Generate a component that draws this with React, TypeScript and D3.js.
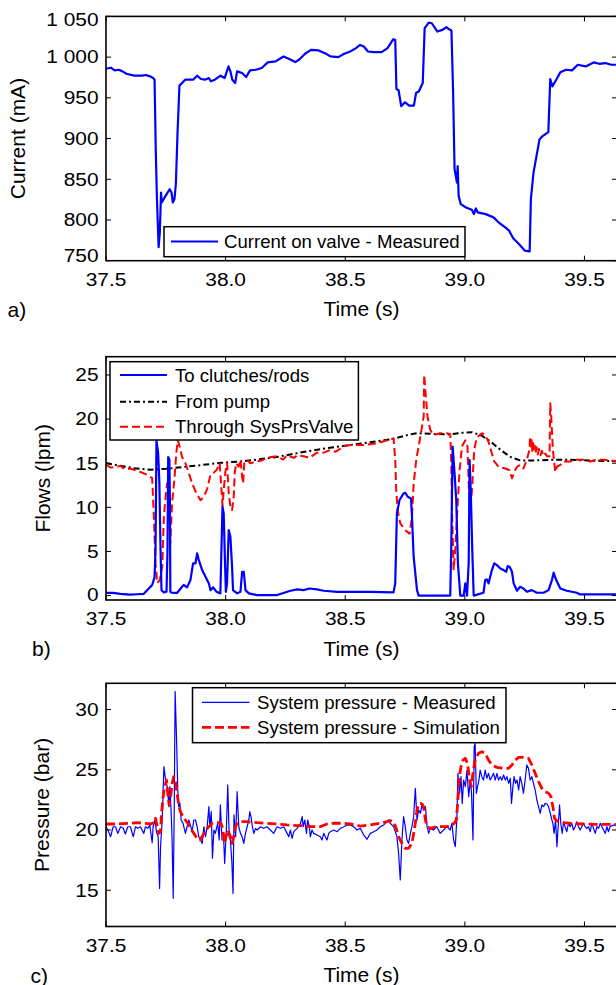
import React from "react";
import * as d3 from "d3";

const W = 616;
const H = 985;
const FONT = "'Liberation Sans', Arial, Helvetica, sans-serif";

const xDomain: [number, number] = [37.5, 39.636];
const xTicks = [37.5, 38.0, 38.5, 39.0, 39.5];
const xTickLabels = ["37.5", "38.0", "38.5", "39.0", "39.5"];

const currentTicks = [750, 800, 850, 900, 950, 1000, 1050];
const currentTickLabels = ["750", "800", "850", "900", "950", "1 000", "1 050"];
const flowTicks = [0, 5, 10, 15, 20, 25];
const flowTickLabels = ["0", "5", "10", "15", "20", "25"];
const pressTicks = [15, 20, 25, 30];
const pressTickLabels = ["15", "20", "25", "30"];

// Panel a: current on valve (time s, mA)
const currentMeasured: [number, number][] = [
  [37.5, 985.7], [37.52, 987], [37.536, 983.7], [37.553, 984.5], [37.569, 982.5], [37.585, 979.6],
  [37.618, 977.2], [37.651, 977.2], [37.667, 978], [37.684, 976.4], [37.697, 974.3], [37.703, 972.3],
  [37.708, 886], [37.713, 825.4], [37.72, 766.5], [37.725, 784.8], [37.73, 833.7], [37.733, 821.5],
  [37.741, 825.6], [37.749, 829.6], [37.766, 837.8], [37.774, 833.7], [37.779, 821.5], [37.786, 825.6],
  [37.792, 843.9], [37.799, 906.8], [37.807, 965], [37.818, 968.2], [37.831, 972.3], [37.864, 972.3],
  [37.881, 977.2], [37.897, 973.1], [37.914, 972.3], [37.93, 974.3], [37.938, 970.3], [37.955, 972.3],
  [37.979, 977.2], [37.996, 974.3], [38.012, 988.6], [38.02, 982.5], [38.028, 972.3], [38.04, 968.2],
  [38.048, 982.5], [38.069, 980.4], [38.086, 975.5], [38.102, 983.7], [38.127, 984.5], [38.151, 986.6],
  [38.176, 993.5], [38.209, 994.7], [38.242, 1000.8], [38.266, 997.6], [38.291, 993.9], [38.307, 996.7],
  [38.332, 1004.1], [38.357, 1008.9], [38.389, 1008.2], [38.422, 1003.7], [38.439, 1000.8], [38.471, 1000],
  [38.496, 1004.1], [38.521, 1006.9], [38.545, 1011], [38.562, 1015], [38.578, 1013], [38.595, 1006.9],
  [38.619, 1006.1], [38.652, 1006.1], [38.677, 1011], [38.701, 1022], [38.709, 1021.2], [38.714, 960.9],
  [38.723, 959.3], [38.734, 939.8], [38.75, 944.6], [38.767, 940.5], [38.787, 940.5], [38.796, 956],
  [38.808, 958.1], [38.824, 968.2], [38.832, 1035.5], [38.849, 1042.4], [38.862, 1041.6], [38.885, 1031.4],
  [38.906, 1033.4], [38.923, 1036.7], [38.934, 1034.2], [38.944, 1032.6], [38.951, 956], [38.957, 862.3],
  [38.967, 846], [38.97, 866.3], [38.974, 829.6], [38.983, 819.4], [39.005, 815.4], [39.029, 812.5],
  [39.038, 807.2], [39.046, 814.2], [39.054, 809.3], [39.087, 807.2], [39.12, 803.2], [39.144, 796.3],
  [39.169, 791], [39.185, 786.9], [39.202, 777.5], [39.226, 770.5], [39.251, 762.3], [39.271, 761.5],
  [39.276, 825.6], [39.287, 858.2], [39.312, 898.9], [39.325, 903], [39.349, 907.9], [39.357, 973.1],
  [39.366, 964.1], [39.382, 972.3], [39.399, 981.3], [39.423, 984.5], [39.448, 983.7], [39.472, 990.6],
  [39.505, 988.6], [39.538, 993.5], [39.562, 991.8], [39.587, 992.7], [39.612, 990.6], [39.636, 990.6],
];

// Panel b: flows (lpm)
const flowClutches: [number, number][] = [
  [37.5, 0.3], [37.53, 0.3], [37.56, 0.2], [37.6, 0.1], [37.63, 0.15], [37.658, 0.2], [37.672, 0.6],
  [37.693, 1.2], [37.703, 2.1], [37.707, 5.2], [37.711, 17.6], [37.718, 16.1], [37.723, 12.9], [37.728, 5.2],
  [37.732, 0.6], [37.742, 0.36], [37.753, 0.43], [37.757, 5], [37.76, 15.7], [37.765, 15.4], [37.767, 11.0],
  [37.769, 0.43], [37.774, 0.32], [37.797, 0.3], [37.818, 1.0], [37.825, 1.2], [37.839, 0.93], [37.853, 1.76],
  [37.864, 3.65], [37.874, 3.65], [37.881, 4.78], [37.888, 4.02], [37.902, 2.89], [37.916, 2.13], [37.93, 1.38],
  [37.937, 0.62], [37.948, 0.93], [37.962, 0.43], [37.978, 0.25], [37.987, 10.07], [37.992, 9.32], [37.996, 5.16],
  [38.001, 0.43], [38.006, 1.38], [38.013, 7.43], [38.02, 6.67], [38.027, 3.27], [38.031, 0.62], [38.048, 0.25],
  [38.062, 0.43], [38.069, 2.7], [38.076, 2.7], [38.083, 0.62], [38.097, 0.25], [38.131, 0.06], [38.215, 0.06],
  [38.271, 0.55], [38.3, 0.7], [38.326, 0.62], [38.35, 0.8], [38.382, 0.7], [38.41, 0.55], [38.466, 0.43],
  [38.521, 0.43], [38.605, 0.43], [38.702, 0.36], [38.709, 1.38], [38.716, 9.32], [38.727, 10.83],
  [38.744, 11.58], [38.751, 11.66], [38.761, 11.2], [38.775, 11.0], [38.779, 8.95], [38.786, 4.4], [38.8, 0.62],
  [38.807, 0], [38.869, 0], [38.939, 0], [38.943, 5.16], [38.949, 16.88], [38.956, 14.24], [38.964, 10.83],
  [38.971, 3.65], [38.981, 0], [38.995, 0], [39.002, 1.38], [39.009, 0], [39.016, 3.65], [39.02, 15.36],
  [39.025, 11.58], [39.031, 5.16], [39.037, 0], [39.078, 0.32], [39.085, 1.76], [39.092, 1.83], [39.099, 1.38],
  [39.113, 2.89], [39.123, 3.65], [39.134, 3.46], [39.148, 3.08], [39.162, 2.89], [39.173, 2.7], [39.179, 3.34],
  [39.187, 3.27], [39.197, 2.7], [39.204, 1.38], [39.218, 0.55], [39.231, 1.0], [39.245, 0.81], [39.259, 0.43],
  [39.28, 0.62], [39.301, 0.32], [39.329, 0.32], [39.35, 0.62], [39.364, 1.76], [39.371, 2.6], [39.382, 1.76],
  [39.399, 0.81], [39.426, 0.55], [39.468, 0.32], [39.482, 0.13], [39.496, 0.13], [39.636, 0.13],
];

const flowPump: [number, number][] = [
  [37.5, 15.0], [37.553, 14.74], [37.618, 14.44], [37.684, 14.25], [37.749, 14.36], [37.815, 14.55],
  [37.881, 14.74], [37.979, 15.04], [38.078, 15.23], [38.209, 15.68], [38.307, 16.18], [38.406, 16.63],
  [38.504, 17.0], [38.603, 17.38], [38.701, 17.76], [38.767, 18.25], [38.8, 18.4], [38.865, 18.33],
  [38.931, 18.25], [38.988, 18.44], [39.029, 18.52], [39.07, 18.14], [39.111, 17.38], [39.152, 16.44],
  [39.193, 15.68], [39.234, 15.3], [39.276, 15.3], [39.358, 15.38], [39.44, 15.38], [39.522, 15.3],
  [39.636, 15.23],
];

const flowValve: [number, number][] = [
  [37.5, 14.8], [37.52, 14.5], [37.547, 14.6], [37.56, 14.7], [37.58, 14.3], [37.602, 14.4], [37.644, 14.0],
  [37.679, 13.6], [37.693, 13.3], [37.7, 9.0], [37.707, 3.65], [37.714, 1.4], [37.725, 1.76], [37.735, 3.27],
  [37.742, 9.0], [37.748, 10.8], [37.755, 12.7], [37.762, 11.6], [37.769, 5.9], [37.776, 10.4], [37.786, 13.2],
  [37.794, 16.2], [37.8, 17.6], [37.808, 16.9], [37.818, 15.7], [37.832, 15.0], [37.846, 13.9], [37.86, 12.7],
  [37.878, 11.6], [37.895, 10.8], [37.909, 11.2], [37.923, 12.1], [37.936, 13.6], [37.95, 13.9], [37.964, 14.3],
  [37.975, 15.0], [37.981, 12.7], [37.987, 10.2], [37.992, 11.9], [37.999, 14.0], [38.006, 15.0], [38.013, 11.6],
  [38.02, 10.1], [38.027, 9.7], [38.034, 11.2], [38.038, 13.9], [38.044, 15.0], [38.055, 14.6], [38.062, 15.4],
  [38.069, 13.5], [38.073, 12.7], [38.078, 15.0], [38.09, 15.4], [38.103, 15.0], [38.131, 15.2], [38.15, 15.3],
  [38.173, 15.6], [38.19, 15.7], [38.215, 15.8], [38.24, 15.4], [38.257, 15.9], [38.285, 15.6], [38.3, 15.9],
  [38.326, 15.8], [38.35, 15.6], [38.382, 16.2], [38.41, 16.2], [38.438, 16.5], [38.46, 16.3], [38.493, 16.9],
  [38.521, 17.06], [38.577, 17.06], [38.632, 17.25], [38.674, 17.6], [38.702, 17.8], [38.709, 15.4],
  [38.713, 12.0], [38.719, 9.7], [38.73, 8.2], [38.751, 7.4], [38.769, 7.0], [38.779, 8.95], [38.786, 12.7],
  [38.797, 15.4], [38.814, 18.0], [38.828, 20.3], [38.83, 25.0], [38.836, 22.9], [38.844, 20.3], [38.855, 18.8],
  [38.869, 18.2], [38.897, 18.4], [38.925, 18.4], [38.939, 18.3], [38.943, 15.4], [38.947, 8.95], [38.953, 2.9],
  [38.96, 5.2], [38.967, 8.95], [38.978, 14.2], [38.988, 16.9], [39.002, 17.6], [39.011, 16.9], [39.017, 12.0],
  [39.023, 10.1], [39.03, 12.0], [39.039, 16.5], [39.05, 17.9], [39.071, 18.4], [39.085, 18.2], [39.099, 17.4],
  [39.113, 16.1], [39.123, 15.2], [39.141, 14.6], [39.169, 14.4], [39.187, 14.2], [39.197, 13.3], [39.206, 14.0],
  [39.218, 14.6], [39.231, 14.8], [39.245, 14.4], [39.259, 15.4], [39.27, 16.5], [39.273, 18.0], [39.276, 16.6],
  [39.279, 17.6], [39.282, 16.4], [39.285, 17.3], [39.288, 16.3], [39.292, 17.0], [39.296, 16.2], [39.3, 16.8],
  [39.305, 16.0], [39.31, 16.6], [39.316, 15.9], [39.322, 16.4], [39.329, 15.8], [39.336, 16.1], [39.343, 15.8],
  [39.354, 15.8], [39.357, 21.8], [39.361, 20.3], [39.368, 16.5], [39.374, 15.0], [39.378, 14.0], [39.385, 14.6],
  [39.399, 14.8], [39.413, 15.2], [39.44, 15.2], [39.468, 15.4], [39.496, 15.4], [39.524, 15.2], [39.552, 15.4],
  [39.58, 15.4], [39.636, 15.25],
];

// Panel c: system pressure (bar)
const pressMeasured: [number, number][] = [
  [37.5, 20.27], [37.508, 20.0], [37.519, 19.44], [37.53, 20.27], [37.54, 20.27], [37.549, 19.72], [37.561, 20.27],
  [37.572, 20.14], [37.581, 19.67], [37.591, 20.27], [37.602, 20.27], [37.614, 19.44], [37.623, 20.27],
  [37.633, 20.14], [37.644, 20.27], [37.658, 19.72], [37.665, 20.27], [37.675, 20.14], [37.683, 20.41],
  [37.693, 18.95], [37.697, 20.27], [37.704, 20.83], [37.711, 19.86], [37.718, 19.44], [37.724, 15.15],
  [37.728, 18.62], [37.735, 20.83], [37.742, 25.26], [37.749, 24.15], [37.756, 23.6], [37.763, 21.94],
  [37.767, 23.6], [37.772, 21.66], [37.776, 19.44], [37.781, 14.33], [37.785, 21.38], [37.789, 31.49],
  [37.795, 27.47], [37.8, 23.32], [37.804, 21.94], [37.809, 22.21], [37.814, 20.83], [37.822, 20.55],
  [37.832, 19.72], [37.839, 20.27], [37.846, 20.83], [37.853, 20.41], [37.86, 19.86], [37.867, 20.83],
  [37.874, 20.83], [37.881, 20.27], [37.888, 19.44], [37.895, 19.17], [37.902, 18.89], [37.909, 20.27],
  [37.916, 19.44], [37.923, 20.27], [37.93, 21.94], [37.934, 20.27], [37.94, 21.52], [37.945, 17.65],
  [37.951, 20.0], [37.957, 19.72], [37.967, 20.55], [37.973, 19.17], [37.978, 22.08], [37.985, 19.17],
  [37.992, 19.17], [37.996, 17.23], [38.003, 20.0], [38.009, 23.74], [38.015, 19.44], [38.02, 19.17],
  [38.026, 17.37], [38.031, 14.74], [38.035, 21.25], [38.042, 19.44], [38.048, 23.18], [38.055, 20.27],
  [38.062, 19.72], [38.069, 19.44], [38.076, 18.89], [38.083, 19.72], [38.09, 20.27], [38.097, 20.83],
  [38.101, 21.52], [38.106, 21.11], [38.112, 20.27], [38.118, 19.72], [38.125, 20.14], [38.132, 20.0],
  [38.146, 20.27], [38.159, 20.14], [38.173, 20.27], [38.187, 20.0], [38.201, 19.72], [38.215, 20.27],
  [38.229, 20.14], [38.243, 20.27], [38.257, 19.72], [38.264, 19.44], [38.271, 20.0], [38.278, 19.31],
  [38.285, 19.86], [38.299, 20.14], [38.313, 20.55], [38.32, 21.11], [38.324, 20.27], [38.331, 20.83],
  [38.338, 19.72], [38.343, 20.83], [38.35, 20.27], [38.354, 19.44], [38.361, 20.0], [38.368, 19.72],
  [38.382, 19.58], [38.396, 19.44], [38.403, 19.17], [38.41, 19.72], [38.417, 19.44], [38.424, 19.17],
  [38.431, 19.72], [38.438, 19.86], [38.452, 20.0], [38.466, 19.86], [38.48, 20.14], [38.494, 20.27],
  [38.508, 20.41], [38.521, 20.42], [38.535, 20.28], [38.549, 20.0], [38.563, 20.14], [38.577, 19.59],
  [38.591, 19.23], [38.605, 19.72], [38.619, 19.86], [38.633, 20.0], [38.647, 20.28], [38.661, 20.42],
  [38.674, 20.69], [38.681, 20.83], [38.688, 20.56], [38.702, 20.28], [38.716, 19.45], [38.723, 18.06],
  [38.73, 15.85], [38.737, 19.17], [38.744, 21.11], [38.751, 20.28], [38.758, 19.17], [38.765, 18.89],
  [38.772, 19.72], [38.779, 20.28], [38.786, 21.11], [38.793, 23.46], [38.8, 20.83], [38.807, 21.66],
  [38.814, 21.39], [38.821, 22.08], [38.828, 21.66], [38.835, 21.94], [38.842, 20.28], [38.849, 19.72],
  [38.855, 20.14], [38.869, 20.0], [38.883, 20.28], [38.897, 19.72], [38.911, 20.0], [38.925, 20.28],
  [38.939, 20.0], [38.946, 20.56], [38.953, 19.17], [38.96, 18.62], [38.967, 21.11], [38.971, 24.71],
  [38.978, 23.05], [38.984, 24.43], [38.989, 22.21], [38.995, 24.15], [39.002, 23.6], [39.009, 24.98],
  [39.016, 22.77], [39.023, 24.15], [39.028, 23.05], [39.034, 19.17], [39.039, 26.92], [39.043, 27.2],
  [39.048, 23.05], [39.053, 23.6], [39.059, 24.15], [39.064, 24.98], [39.071, 24.43], [39.078, 24.15],
  [39.085, 24.98], [39.092, 24.29], [39.099, 24.71], [39.106, 24.15], [39.113, 24.43], [39.12, 24.71],
  [39.127, 24.15], [39.134, 24.71], [39.141, 24.15], [39.148, 24.43], [39.155, 24.15], [39.162, 24.57],
  [39.169, 24.15], [39.176, 24.43], [39.183, 23.88], [39.19, 24.29], [39.195, 22.21], [39.201, 23.6],
  [39.206, 24.43], [39.212, 23.88], [39.218, 24.15], [39.225, 23.32], [39.231, 24.43], [39.238, 23.88],
  [39.245, 23.05], [39.252, 24.15], [39.259, 25.4], [39.266, 25.12], [39.273, 24.15], [39.28, 24.43],
  [39.287, 23.88], [39.294, 23.32], [39.301, 22.49], [39.308, 21.94], [39.315, 21.39], [39.322, 22.08],
  [39.329, 21.94], [39.336, 22.21], [39.343, 22.16], [39.35, 21.94], [39.357, 21.39], [39.364, 20.83],
  [39.368, 20.56], [39.373, 19.72], [39.379, 20.83], [39.385, 18.62], [39.39, 20.28], [39.396, 22.08],
  [39.401, 20.56], [39.407, 19.72], [39.413, 20.69], [39.419, 20.28], [39.426, 19.86], [39.433, 20.56],
  [39.44, 20.28], [39.447, 20.56], [39.454, 20.0], [39.461, 20.28], [39.468, 20.69], [39.475, 20.28],
  [39.482, 20.0], [39.489, 20.28], [39.496, 20.56], [39.503, 20.28], [39.51, 20.14], [39.517, 20.28],
  [39.524, 19.86], [39.531, 20.56], [39.538, 20.14], [39.545, 19.72], [39.552, 20.28], [39.559, 20.14],
  [39.566, 20.56], [39.573, 20.28], [39.58, 20.0], [39.587, 19.72], [39.594, 20.28], [39.6, 19.86],
  [39.607, 20.28], [39.621, 20.42], [39.636, 20.35],
];

const pressSimulated: [number, number][] = [
  [37.5, 20.5], [37.547, 20.5], [37.589, 20.55], [37.63, 20.61], [37.665, 20.55], [37.686, 20.5], [37.7, 20.61],
  [37.707, 20.97], [37.714, 20.28], [37.721, 19.72], [37.728, 19.86], [37.732, 21.39], [37.739, 22.77],
  [37.744, 23.46], [37.753, 24.15], [37.758, 23.05], [37.764, 22.08], [37.77, 22.77], [37.777, 23.88],
  [37.783, 24.43], [37.79, 24.15], [37.795, 23.32], [37.8, 22.63], [37.806, 21.94], [37.811, 21.52],
  [37.822, 21.11], [37.832, 20.83], [37.842, 20.56], [37.853, 20.14], [37.867, 19.72], [37.881, 19.31],
  [37.892, 19.17], [37.902, 19.45], [37.916, 20.0], [37.93, 20.28], [37.944, 20.56], [37.958, 20.61],
  [37.971, 20.61], [37.981, 20.56], [37.989, 20.0], [37.995, 18.89], [38.002, 19.45], [38.009, 20.0],
  [38.02, 19.45], [38.027, 18.89], [38.034, 19.45], [38.041, 20.28], [38.048, 20.56], [38.062, 20.69],
  [38.09, 20.69], [38.132, 20.61], [38.173, 20.56], [38.215, 20.5], [38.257, 20.42], [38.299, 20.36],
  [38.326, 20.36], [38.354, 20.28], [38.396, 20.28], [38.424, 20.5], [38.452, 20.56], [38.494, 20.56],
  [38.521, 20.5], [38.563, 20.33], [38.605, 20.42], [38.647, 20.56], [38.674, 20.69], [38.688, 20.78],
  [38.702, 20.69], [38.713, 20.14], [38.723, 19.45], [38.737, 18.89], [38.751, 18.48], [38.765, 18.48],
  [38.779, 18.89], [38.793, 20.56], [38.8, 21.66], [38.807, 22.16], [38.814, 22.21], [38.821, 22.16],
  [38.828, 21.94], [38.835, 20.83], [38.842, 20.28], [38.855, 20.14], [38.883, 20.28], [38.925, 20.28],
  [38.946, 20.42], [38.956, 20.56], [38.964, 20.83], [38.97, 22.21], [38.977, 24.43], [38.984, 25.26],
  [38.992, 25.81], [39.002, 25.95], [39.011, 25.54], [39.02, 24.15], [39.027, 23.6], [39.034, 24.71],
  [39.043, 25.81], [39.057, 26.37], [39.071, 26.5], [39.085, 26.37], [39.099, 25.81], [39.113, 25.4],
  [39.134, 25.2], [39.162, 25.12], [39.183, 25.12], [39.197, 25.4], [39.211, 25.81], [39.225, 26.03],
  [39.245, 26.03], [39.266, 25.95], [39.28, 25.4], [39.294, 24.71], [39.308, 24.01], [39.322, 23.46],
  [39.336, 23.18], [39.35, 23.05], [39.36, 22.77], [39.368, 21.94], [39.375, 20.97], [39.385, 20.75],
  [39.413, 20.61], [39.44, 20.56], [39.496, 20.5], [39.552, 20.47], [39.636, 20.47],
];

type Series = { data: [number, number][]; color: string; width: number; dash?: string };
type LegendRow = { label: string; color: string; width: number; dash?: string; y: number };
type PanelCfg = {
  id: string;
  top: number;
  bottom: number;
  yDomain: [number, number];
  yTicks: number[];
  yTickLabels: string[];
  yLabel: string;
  yLabelX: number;
  panelLabel: string;
  panelLabelX: number;
  series: Series[];
  legend: { x: number; y: number; w: number; h: number; lineX1: number; lineX2: number; textX: number; rows: LegendRow[] };
};

const X0 = 106;
const X1 = 617;
const DASHDOT = "6,3,2,3";

const panels: PanelCfg[] = [
  {
    id: "a", top: 16.4, bottom: 260.7, yDomain: [750, 1050], yTicks: currentTicks, yTickLabels: currentTickLabels,
    yLabel: "Current (mA)", yLabelX: 25, panelLabel: "a)", panelLabelX: 7.5,
    series: [{ data: currentMeasured, color: "#0000ff", width: 2.2 }],
    legend: { x: 164, y: 226.7, w: 301, h: 30, lineX1: 171, lineX2: 218, textX: 224,
      rows: [{ label: "Current on valve - Measured", color: "#0000ff", width: 2.2, y: 241.5 }] },
  },
  {
    id: "b", top: 356.7, bottom: 600, yDomain: [-0.5, 27.07], yTicks: flowTicks, yTickLabels: flowTickLabels,
    yLabel: "Flows (lpm)", yLabelX: 49.5, panelLabel: "b)", panelLabelX: 32,
    series: [
      { data: flowPump, color: "#000000", width: 2, dash: DASHDOT },
      { data: flowValve, color: "#ff0000", width: 2, dash: "8,4" },
      { data: flowClutches, color: "#0000ff", width: 2.2 },
    ],
    legend: { x: 110, y: 361.7, w: 248.4, h: 78.3, lineX1: 120, lineX2: 167, textX: 175,
      rows: [
        { label: "To clutches/rods", color: "#0000ff", width: 2.2, y: 375 },
        { label: "From pump", color: "#000000", width: 2, dash: DASHDOT, y: 401.7 },
        { label: "Through SysPrsValve", color: "#ff0000", width: 2, dash: "8,4", y: 426.7 },
      ] },
  },
  {
    id: "c", top: 683.3, bottom: 926.5, yDomain: [11.99, 32.18], yTicks: pressTicks, yTickLabels: pressTickLabels,
    yLabel: "Pressure (bar)", yLabelX: 48.5, panelLabel: "c)", panelLabelX: 30.5,
    series: [
      { data: pressMeasured, color: "#0000ff", width: 1.2 },
      { data: pressSimulated, color: "#ff0000", width: 2.8, dash: "9,4" },
    ],
    legend: { x: 192.5, y: 687.7, w: 313.5, h: 55, lineX1: 202, lineX2: 249.5, textX: 257,
      rows: [
        { label: "System pressure - Measured", color: "#0000ff", width: 1.2, y: 702.3 },
        { label: "System pressure - Simulation", color: "#ff0000", width: 2.8, dash: "9,4", y: 727.3 },
      ] },
  },
];

const TICK_FS = 17.7;
const TICK_SX = 1.18;
const LEG_FS = 18.6;
const LAB_FS = 21;

function Panel({ p }: { p: PanelCfg }) {
  const x = d3.scaleLinear().domain(xDomain).range([X0, X1]);
  const y = d3.scaleLinear().domain(p.yDomain).range([p.bottom, p.top]);
  const line = d3.line<[number, number]>().x((d) => x(d[0])).y((d) => y(d[1]));
  const tl = 5;
  const midY = (p.top + p.bottom) / 2;
  const midX = (X0 + X1) / 2;
  const clipId = `clip-${p.id}`;
  const lg = p.legend;
  return (
    <g>
      <defs>
        <clipPath id={clipId}>
          <rect x={X0} y={p.top} width={X1 - X0} height={p.bottom - p.top} />
        </clipPath>
      </defs>
      <g clipPath={`url(#${clipId})`}>
        {p.series.map((s, i) => (
          <path key={i} d={line(s.data) || ""} fill="none" stroke={s.color} strokeWidth={s.width}
            strokeDasharray={s.dash} strokeLinejoin="round" strokeLinecap={s.dash ? "butt" : "round"} />
        ))}
      </g>
      {xTicks.map((t, i) => (
        <g key={"x" + i}>
          <line x1={x(t)} x2={x(t)} y1={p.bottom} y2={p.bottom - tl} stroke="#000" strokeWidth={1} />
          <line x1={x(t)} x2={x(t)} y1={p.top} y2={p.top + tl} stroke="#000" strokeWidth={1} />
          <text transform={`translate(${x(t)},${p.bottom + 25.3}) scale(${TICK_SX},1)`} textAnchor="middle"
            fontSize={TICK_FS} fontFamily={FONT} fill="#000">{xTickLabels[i]}</text>
        </g>
      ))}
      {p.yTicks.map((v, i) => {
        const yy = y(v);
        const ly = Math.min(Math.max(yy, p.top + 3), p.bottom - 5.2);
        return (
          <g key={"y" + i}>
            <line x1={X0} x2={X0 + tl} y1={yy} y2={yy} stroke="#000" strokeWidth={1} />
            <line x1={X1} x2={X1 - tl} y1={yy} y2={yy} stroke="#000" strokeWidth={1} />
            <text transform={`translate(98.5,${ly + 6.3}) scale(${TICK_SX},1)`} textAnchor="end"
              fontSize={TICK_FS} fontFamily={FONT} fill="#000">{p.yTickLabels[i]}</text>
          </g>
        );
      })}
      <rect x={X0} y={p.top} width={X1 - X0} height={p.bottom - p.top} fill="none" stroke="#000" strokeWidth={1.6} />
      <rect x={lg.x} y={lg.y} width={lg.w} height={lg.h} fill="#fff" stroke="#000" strokeWidth={1.5} />
      {lg.rows.map((r, i) => (
        <g key={"l" + i}>
          <line x1={lg.lineX1} x2={lg.lineX2} y1={r.y} y2={r.y} stroke={r.color} strokeWidth={r.width} strokeDasharray={r.dash} />
          <text x={lg.textX} y={r.y + 6.7} fontSize={LEG_FS} fontFamily={FONT} fill="#000">{r.label}</text>
        </g>
      ))}
      <text x={midX} y={p.bottom + 55.5} textAnchor="middle" fontSize={LAB_FS} fontFamily={FONT} fill="#000">Time (s)</text>
      <text transform={`translate(${p.yLabelX},${midY}) rotate(-90)`} textAnchor="middle" fontSize={LAB_FS} fontFamily={FONT} fill="#000">{p.yLabel}</text>
      <text x={p.panelLabelX} y={p.bottom + 56} fontSize={LAB_FS} fontFamily={FONT} fill="#000">{p.panelLabel}</text>
    </g>
  );
}

export default function App() {
  return (
    <svg width={W} height={H} viewBox={`0 0 ${W} ${H}`}
      style={{ position: "absolute", left: 0, top: 0, background: "#fff", display: "block" }}>
      <rect x={0} y={0} width={W} height={H} fill="#fff" />
      {panels.map((p) => (
        <Panel key={p.id} p={p} />
      ))}
    </svg>
  );
}
